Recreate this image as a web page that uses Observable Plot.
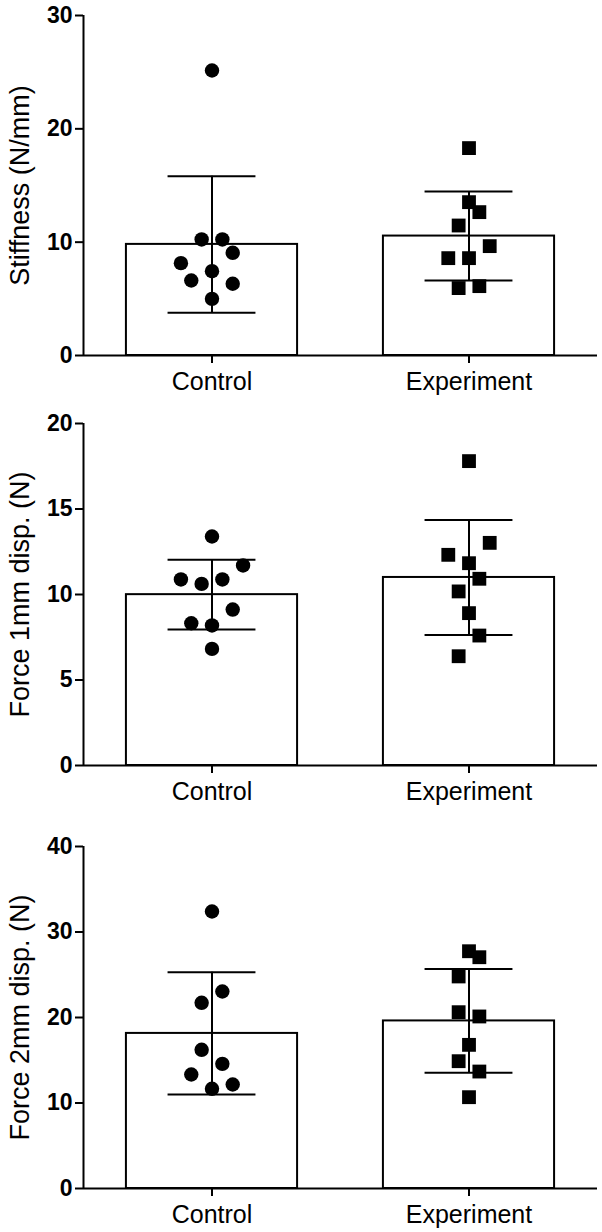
<!DOCTYPE html>
<html>
<head>
<meta charset="utf-8">
<script src="https://cdn.jsdelivr.net/npm/d3@7"></script>
<script src="https://cdn.jsdelivr.net/npm/@observablehq/plot@0.6"></script>
<style>
  html, body { margin: 0; padding: 0; background: #fff; }
  #chart svg { display: block; }
</style>
</head>
<body>
<div id="chart"></div>
<script>
// ---- Data ----
const groups = ["Control", "Experiment"];

// Panel 1: Stiffness (N/mm)
const stiffControl    = [25.15, 10.24, 10.24, 9.06, 8.15, 7.44, 6.62, 6.33, 5.0];
const stiffControlCol = [0, -1, 1, 2, -3, 0, -2, 2, 0];
const stiffExp        = [18.3, 13.53, 12.65, 11.47, 9.65, 8.59, 8.59, 5.95, 6.12];
const stiffExpCol     = [0, 0, 1, -1, 2, -2, 0, -1, 1];

// Panel 2: Force 1mm disp. (N)
const f1Control    = [13.39, 11.70, 10.88, 10.62, 10.88, 9.12, 8.32, 8.19, 6.82];
const f1ControlCol = [0, 3, -3, -1, 1, 2, -2, 0, 0];
const f1Exp        = [17.8, 13.02, 12.32, 11.83, 10.92, 10.18, 8.91, 7.60, 6.39];
const f1ExpCol     = [0, 2, -2, 0, 1, -1, 0, 1, -1];

// Panel 3: Force 2mm disp. (N)
const f2Control    = [32.4, 23.04, 21.72, 16.22, 14.58, 13.33, 12.16, 11.66];
const f2ControlCol = [0, 1, -1, -1, 1, -2, 2, 0];
const f2Exp        = [27.75, 27.05, 24.8, 20.62, 20.12, 16.8, 14.89, 13.68, 10.68];
const f2ExpCol     = [0, 1, -1, -1, 1, 0, -1, 1, 0];

const panels = [
  { title: "Stiffness (N/mm)",    max: 30, ticks: [0, 10, 20, 30],        ctrl: stiffControl, ctrlCol: stiffControlCol, exp: stiffExp, expCol: stiffExpCol, height: 410, mt: 15, mb: 55 },
  { title: "Force 1mm disp. (N)", max: 20, ticks: [0, 5, 10, 15, 20],     ctrl: f1Control,    ctrlCol: f1ControlCol,    exp: f1Exp,    expCol: f1ExpCol,    height: 410, mt: 13, mb: 55 },
  { title: "Force 2mm disp. (N)", max: 40, ticks: [0, 10, 20, 30, 40],    ctrl: f2Control,    ctrlCol: f2ControlCol,    exp: f2Exp,    expCol: f2ExpCol,    height: 412, mt: 26, mb: 44 }
];

const STEP = 0.0403;     // horizontal spacing of scatter columns (x units)
const HALF_BAR = 0.333;  // half bar width (x units)
const HALF_CAP = 0.171;  // half error-cap width (x units)
const FONT = "'Liberation Sans', Arial, Helvetica, sans-serif";

function makePanel(p) {
  const sets = [p.ctrl, p.exp];
  const cols = [p.ctrlCol, p.expCol];
  const stats = sets.map((vals, k) => {
    const m = d3.mean(vals), s = d3.deviation(vals);
    return { g: k + 1, mean: m, lo: m - s, hi: m + s };
  });
  const pts = [];
  sets.forEach((vals, k) => vals.forEach((v, j) => pts.push({ g: k + 1, col: cols[k][j], v, sym: k === 0 ? "circle" : "square" })));

  return Plot.plot({
    width: 602,
    height: p.height,
    marginLeft: 83,
    marginRight: 5,
    marginTop: p.mt,
    marginBottom: p.mb,
    style: { fontFamily: FONT, color: "#000", background: "#fff", overflow: "visible" },
    x: { type: "linear", domain: [0.5, 2.5] },
    y: { domain: [0, p.max] },
    marks: [
      Plot.rect(stats, { x1: d => d.g - HALF_BAR, x2: d => d.g + HALF_BAR, y1: 0, y2: "mean", fill: "white", stroke: "black", strokeWidth: 2 }),
      Plot.ruleX(stats, { x: "g", y1: "lo", y2: "hi", stroke: "black", strokeWidth: 2 }),
      Plot.ruleY(stats, { y: "hi", x1: d => d.g - HALF_CAP, x2: d => d.g + HALF_CAP, stroke: "black", strokeWidth: 2 }),
      Plot.ruleY(stats, { y: "lo", x1: d => d.g - HALF_CAP, x2: d => d.g + HALF_CAP, stroke: "black", strokeWidth: 2 }),
      Plot.dot(pts.filter(d => d.sym === "circle"), { x: d => d.g + d.col * STEP, y: "v", symbol: "circle", r: 7.2, fill: "black", stroke: "none" }),
      Plot.dot(pts.filter(d => d.sym === "square"), { x: d => d.g + d.col * STEP, y: "v", symbol: "square", r: 7.8, fill: "black", stroke: "none" }),
      Plot.ruleY([0], { stroke: "black", strokeWidth: 2 }),
      Plot.ruleX([0.5], { y1: 0, y2: p.max, stroke: "black", strokeWidth: 2 }),
      Plot.axisY({ ticks: p.ticks, tickSize: 8, tickPadding: 3, fontSize: 23, fontWeight: "bold", strokeWidth: 2, label: null }),
      Plot.axisX({ ticks: [1, 2], tickFormat: d => groups[d - 1], tickSize: 8, tickPadding: 9, fontSize: 25, strokeWidth: 2, label: null }),
      Plot.text([p.title], { text: d => d, frameAnchor: "left", textAnchor: "middle", lineAnchor: "middle", rotate: -90, dx: -63, fontSize: 27, fill: "black" })
    ]
  });
}

const root = document.getElementById("chart");
panels.forEach(p => root.appendChild(makePanel(p)));
</script>
</body>
</html>
